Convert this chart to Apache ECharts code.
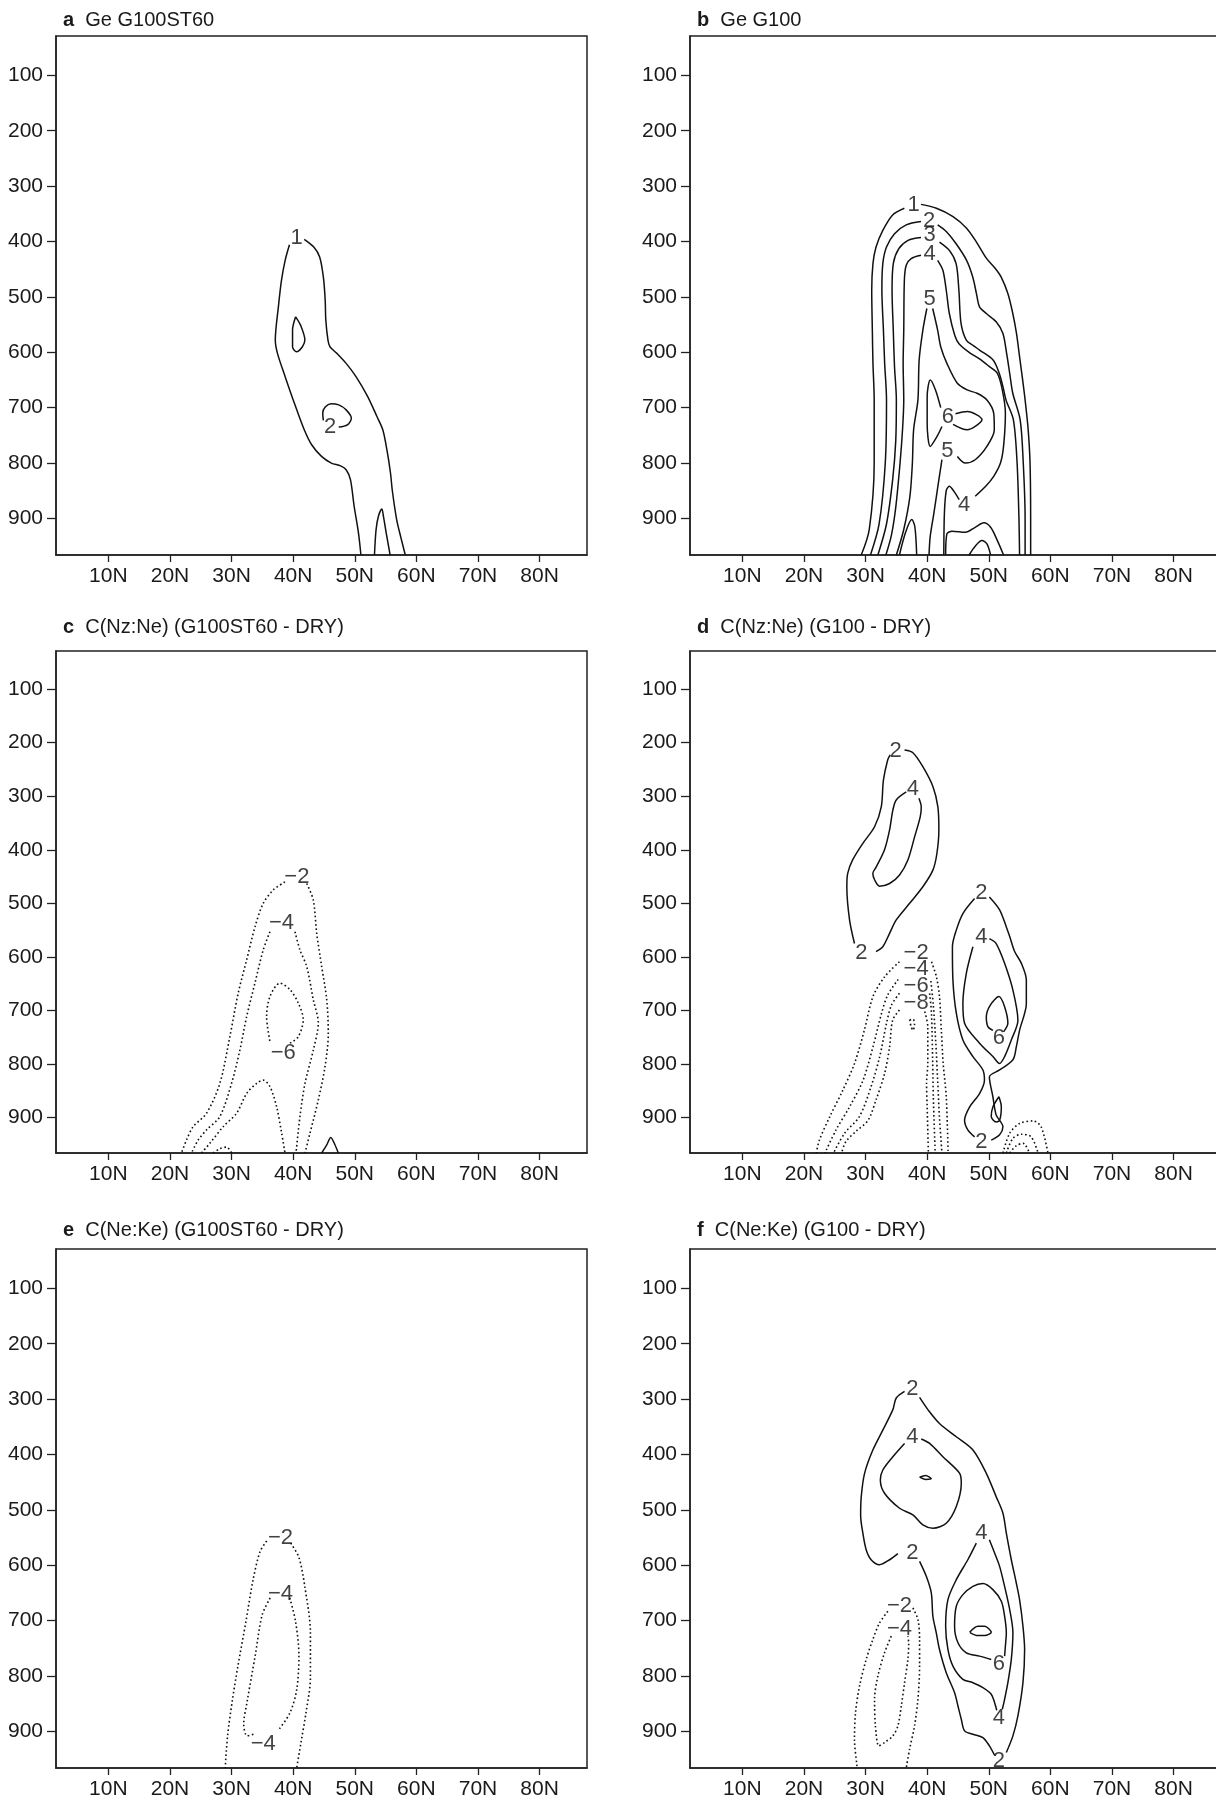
<!DOCTYPE html>
<html><head><meta charset="utf-8">
<script src="https://cdn.jsdelivr.net/npm/echarts@6/dist/echarts.min.js"></script>
<style>html,body{margin:0;padding:0;background:#fff}#c{width:1216px;height:1804px}</style>
</head><body><div id="c"></div>
<script>
// ---------- axes ----------
const X_MIN = 1.5, X_MAX = 87.7, P_MIN = 29, P_MAX = 966;
const LAT_TICKS = [10, 20, 30, 40, 50, 60, 70, 80];
const P_TICKS = [100, 200, 300, 400, 500, 600, 700, 800, 900];
const TITLES = [
  ['a', 'Ge G100ST60'], ['b', 'Ge G100'],
  ['c', 'C(Nz:Ne) (G100ST60 - DRY)'], ['d', 'C(Nz:Ne) (G100 - DRY)'],
  ['e', 'C(Ne:Ke) (G100ST60 - DRY)'], ['f', 'C(Ne:Ke) (G100 - DRY)']
];

// ---------- panel a ----------
const A1_L = [[39.4,406],[38.7,434],[38.1,470],[37.6,518],[37.1,578],[37.45,602],[38.7,644],[40.2,692],[41.8,740],[43.0,767],[44.6,788],[46.2,800],[47.7,805],[48.6,812],[49.3,830],[49.9,878],[50.6,926],[51.0,966]];
const A1_R = [[41.8,396],[43.35,410],[44.3,428],[44.9,464],[45.2,506],[45.3,542],[45.65,578],[45.97,590],[47.1,602],[48.6,620],[50.2,644],[52.1,680],[53.6,716],[54.55,740],[55.2,775],[55.8,818],[56.1,850],[56.8,902],[57.5,935],[58.2,966]];
const A2_UP = [[40.4,536],[41.2,551],[41.9,578],[41.5,590],[40.55,599],[39.9,590],[39.9,560],[40.4,536]];
const A2_MID = [[44.9,723],[44.8,710],[45.2,699],[46.15,693],[47.4,695],[48.6,704],[49.45,719],[48.8,731],[47.4,735]];
const A2_SFC = [[53.2,966],[53.46,920],[53.84,896],[54.4,883],[54.65,896],[55.1,926],[55.74,966]];
const A_LABELS = [[40.55,393,'1'],[46.0,735,'2']];

// ---------- panel b ----------
const B1_L = [[36.3,340],[34.4,352],[32.8,380],[31.7,410],[31.2,440],[31.0,488],[31.1,560],[31.2,620],[31.4,686],[31.4,800],[30.6,920],[29.3,966]];
const B1_R = [[39.0,333],[41.5,340],[44.2,355],[46.4,376],[48.0,401],[49.6,430],[51.0,448],[52.0,464],[53.1,494],[53.9,530],[54.5,566],[55.0,608],[55.5,650],[55.9,686],[56.4,740],[56.7,800],[56.8,900],[56.8,966]];
const B2_L = [[39.0,364],[36.6,370],[34.7,386],[33.4,410],[32.8,440],[32.65,488],[32.9,560],[33.1,620],[33.4,686],[33.2,800],[32.2,910],[30.8,966]];
const B2_R = [[41.7,370],[43.1,382],[44.7,404],[46.4,434],[47.4,464],[48.0,494],[48.5,518],[49.6,530],[51.2,545],[52.3,566],[52.9,602],[53.4,638],[53.9,674],[55.1,722],[55.6,800],[55.9,900],[55.9,966]];
const B3_L = [[39.0,393],[36.9,398],[35.4,413],[34.5,440],[34.3,488],[34.5,560],[34.7,626],[35.0,686],[34.9,760],[34.4,830],[33.4,910],[32.0,966]];
const B3_R = [[42.0,401],[43.6,416],[44.7,440],[45.15,488],[45.5,548],[46.35,578],[47.5,588],[48.5,596],[50.7,614],[51.7,638],[52.3,662],[52.8,686],[54.0,722],[54.6,800],[54.9,900],[55.0,966]];
const B4_L = [[39.0,425],[37.4,431],[36.6,443],[36.3,470],[36.2,560],[36.1,620],[36.2,686],[36.0,740],[35.6,800],[34.9,880],[34.2,930],[33.3,966]];
const B4_R = [[41.7,434],[42.55,452],[43.1,488],[43.6,530],[44.5,570],[45.2,585],[46.8,600],[48.5,612],[50.0,625],[51.4,638],[52.2,668],[52.7,710],[52.4,770],[51.9,800],[50.8,824],[49.5,842],[47.8,860]];
const B4_IN = [[45.2,866],[44.4,852],[43.6,842],[43.1,850],[42.8,890],[42.7,966]];
const B5_L = [[39.95,521],[39.3,560],[38.7,614],[38.5,686],[37.8,740],[37.6,800],[37.2,860],[36.2,920],[35.0,966]];
const B5_R = [[40.9,521],[41.7,560],[42.2,590],[43.2,620],[44.9,656],[46.5,668],[48.1,674],[49.7,686],[50.8,710],[50.9,740],[49.7,770],[47.8,794],[46.2,800],[44.9,788]];
const B5_LOW = [[42.4,794],[41.9,830],[41.1,890],[40.5,932],[40.3,966]];
const B6_SPIKE = [[35.5,966],[36.5,925],[37.5,902],[38.0,915],[38.3,966]];
const B6_LENS = [[42.2,700],[41.35,668],[40.5,650],[40.0,680],[40.0,728],[40.5,770],[41.6,752],[42.4,734]];
const B6_LOOP = [[44.6,711],[46.5,707],[48.9,722],[47.8,734],[46.5,740],[44.2,730]];
const B4_BUMP = [[43.0,966],[43.2,928],[44.05,923],[46.2,925],[47.8,916],[49.2,908],[50.3,916],[51.4,940],[52.4,966]];
const B5_BUMP = [[46.8,966],[47.8,950],[48.9,940],[49.7,946],[50.3,966]];
const B_LABELS = [[37.8,334,'1'],[40.3,363,'2'],[40.4,389,'3'],[40.4,423,'4'],[40.4,503,'5'],[43.35,716,'6'],[43.3,779,'5'],[46.0,875,'4']];

// ---------- panel c ----------
const CM2_L = [[38.67,460],[36.77,475],[35.14,500],[33.8,544],[32.44,606],[31.07,668],[29.72,749],[28.1,836],[25.93,892],[23.76,917],[22.68,942],[21.87,966]];
const CM2_R = [[42.2,463],[43.27,494],[43.82,556],[44.63,618],[45.45,680],[45.7,743],[45.17,805],[44.08,867],[42.73,929],[41.92,966]];
const CM4_L = [[36.23,553],[35.14,587],[33.79,649],[32.44,712],[31.35,774],[30.0,836],[28.1,898],[25.93,923],[24.57,942],[23.5,966]];
const CM4_R = [[40.29,553],[41.1,587],[42.2,618],[43.27,680],[44.08,723],[43.27,774],[41.92,836],[41.1,898],[40.46,966]];
const CM6_RING = [[39.48,761],[40.83,749],[41.64,717],[40.83,686],[39.48,661],[37.85,649],[36.23,674],[35.69,712],[36.23,758]];
const CM6_SFC = [[25.12,966],[26.47,948],[28.63,917],[30.81,892],[32.44,855],[34.07,836],[35.14,830],[36.23,842],[37.32,880],[38.13,929],[38.67,966]];
const CM8_SFC = [[27.0,966],[28.1,958],[29.2,955],[30.0,966]];
const C_POS = [[44.63,966],[45.45,951],[46.1,937],[46.8,951],[47.33,966]];
const C_LABELS = [[40.6,450,'\u22122'],[38.1,537,'\u22124'],[38.4,780,'\u22126']];

// ---------- panel d ----------
const D2U_R = [[36.33,214],[37.68,219],[39.3,245],[40.93,282],[41.74,320],[41.9,363],[41.58,407],[40.93,438],[39.3,469],[37.15,500],[34.98,531],[33.9,556],[32.8,581],[31.7,590]];
const D2U_L = [[28.2,575],[27.4,531],[26.96,469],[27.1,444],[27.9,419],[29.56,388],[31.46,357],[32.55,320],[32.9,270],[33.6,232],[34.0,223]];
const D4U = [[36.6,292],[34.98,307],[34.43,326],[33.9,363],[33.08,400],[31.74,432],[31.18,444],[31.46,456],[32.27,468],[33.9,463],[35.52,447],[36.87,419],[37.96,376],[38.88,338],[39.04,320],[38.66,304]];
const D2L_L = [[47.7,491],[45.8,519],[44.73,550],[44.1,581],[44.18,643],[44.73,705],[45.8,755],[47.43,786],[49.05,811],[49.3,830],[48.5,855],[46.9,880],[46.07,905],[46.6,923],[47.7,936]];
const D2L_R = [[50.4,942],[51.76,932],[52.3,917],[51.2,895],[50.67,861],[50.1,824],[51.76,811],[53.92,792],[54.47,768],[55.0,737],[56.1,687],[56.1,643],[55.3,612],[54.2,590],[53.4,562],[52.85,544],[51.76,512],[50.1,488]];
const D4L = [[47.43,581],[46.35,631],[45.8,687],[46.07,724],[48.5,761],[50.67,786],[51.76,799],[52.57,786],[53.66,755],[54.73,718],[53.92,662],[52.57,612],[51.2,575],[50.1,566]];
const D6 = [[52.4,740],[53.1,724],[52.57,693],[51.65,674],[50.25,690],[49.6,712],[49.86,730],[50.67,737]];
const D_SMALL = [[51.65,861],[52.04,880],[51.76,905],[51.2,908],[50.4,898],[50.67,880],[51.65,861]];
const DM2_L = [[35.5,609],[33.1,637],[31.2,674],[29.8,737],[28.2,799],[26.3,849],[24.2,898],[22.5,942],[22.0,966]];
const DM2_R = [[40.7,609],[41.5,637],[42.0,674],[42.3,737],[42.6,799],[43.1,861],[43.4,966]];
const DM4_L = [[35.3,642],[33.6,671],[32.6,705],[31.2,768],[29.6,830],[27.4,880],[25.2,923],[23.4,966]];
const DM4_R = [[40.6,645],[41.0,690],[41.4,760],[41.7,830],[42.0,900],[42.4,966]];
const DM6_L = [[35.5,668],[34.2,690],[33.4,724],[32.3,786],[30.9,842],[29.0,898],[26.6,929],[24.8,966]];
const DM6_R = [[40.4,668],[40.7,705],[40.9,799],[41.0,861],[41.3,966]];
const DM8_L = [[35.5,699],[34.4,718],[33.9,768],[33.1,817],[31.7,867],[30.4,905],[28.5,925],[26.8,945],[26.1,966]];
const DM8_R = [[39.6,702],[40.1,730],[40.1,799],[39.9,836],[40.0,880],[40.2,966]];
const DM_TINY = [[37.15,718],[37.7,716],[37.95,727],[37.7,737],[37.4,730],[37.15,718]];
const DM_B1 = [[52.3,966],[53.4,929],[55.0,911],[57.2,906],[58.5,917],[59.6,966]];
const DM_B2 = [[52.85,966],[53.9,939],[55.3,931],[56.9,936],[58.0,966]];
const DM_B3 = [[53.4,966],[54.5,952],[55.6,948],[56.6,966]];
const D_LABELS = [[34.87,215,'2'],[37.68,287,'4'],[29.3,593,'2'],[48.79,480,'2'],[48.79,562,'4'],[51.65,752,'6'],[48.79,946,'2'],
  [38.2,592,'\u22122'],[38.2,623,'\u22124'],[38.2,654,'\u22126'],[38.2,686,'\u22128']];

// ---------- panel e ----------
const EM2_L = [[35.7,556],[34.6,576],[33.46,628],[32.34,701],[31.0,784],[30.1,846],[29.35,908],[28.97,966]];
const EM2_R = [[39.6,560],[40.94,586],[41.9,639],[42.8,722],[42.8,804],[42.07,867],[41.3,918],[40.57,966]];
const EM4_L = [[36.27,659],[34.96,690],[33.84,763],[32.53,846],[31.97,887],[32.53,908],[33.84,904]];
const EM4_R = [[39.45,659],[40.38,701],[40.94,763],[40.57,825],[39.45,867],[37.58,898]];
const E_LABELS = [[37.95,550,'\u22122'],[37.95,651,'\u22124'],[35.15,923,'\u22124']];

// ---------- panel f ----------
const F2_TOPL = [[36.33,286],[34.98,298],[34.43,319],[32.8,356],[31.18,392],[29.84,434],[29.3,476],[29.2,510],[29.56,542],[30.1,572],[30.9,590],[32.27,599],[33.9,590],[35.25,579]];
const F2_MID = [[38.77,593],[39.86,620],[40.67,650],[40.93,692],[41.48,722],[42.0,752],[43.1,794],[44.45,830],[45.0,854],[45.54,878],[46.07,899],[47.43,905],[49.05,911],[50.1,926],[50.95,943]];
const F2_R = [[52.85,938],[53.92,908],[54.73,872],[55.55,812],[55.82,752],[55.55,710],[55.0,662],[54.47,632],[53.66,590],[52.85,542],[52.3,506],[51.2,476],[49.6,434],[47.43,392],[44.73,368],[42.0,344],[40.12,319],[38.77,297]];
const F4_UP = [[36.33,380],[34.43,404],[32.8,428],[32.4,446],[33.08,470],[35.52,497],[37.68,509],[39.3,527],[40.93,533],[43.1,524],[44.73,494],[45.54,452],[45.27,434],[42.55,404],[40.4,380],[39.04,372]];
const F_TINY = [[38.77,441],[39.74,438],[40.67,444],[39.74,445],[38.77,441]];
const F4_LO_L = [[47.98,560],[46.6,590],[44.73,626],[43.37,662],[43.0,710],[43.37,752],[44.18,782],[45.8,806],[47.43,812],[49.05,821],[50.4,833],[50.95,848],[51.3,862]];
const F4_LO_R = [[52.2,860],[52.57,842],[53.1,812],[53.66,770],[53.92,722],[53.4,680],[52.57,638],[51.76,602],[50.95,578],[50.1,554]];
const F6 = [[50.4,770],[48.5,764],[46.35,758],[45.0,740],[44.45,710],[44.73,674],[45.8,653],[47.43,638],[49.05,633],[50.67,644],[52.04,665],[52.57,692],[52.85,722],[52.7,746],[52.57,764]];
const F_LENS = [[46.9,721],[48.24,710],[49.33,710],[50.4,721],[49.33,727],[48.24,727],[46.9,721]];
const FM2_L = [[33.62,683],[32.27,704],[31.18,734],[30.1,770],[29.02,818],[28.37,866],[28.2,914],[28.6,962],[28.65,966]];
const FM2_R = [[37.68,677],[38.5,698],[38.77,734],[38.77,782],[38.5,842],[37.95,890],[37.15,932],[36.6,966]];
const FM4 = [[34.17,728],[33.08,758],[32.0,800],[31.46,842],[31.6,890],[32.16,926],[33.08,920],[34.43,908],[35.25,890],[35.8,854],[36.33,812],[36.87,770],[37.0,740],[36.87,728]];
const F_LABELS = [[37.58,282,'2'],[37.6,368,'4'],[37.58,578,'2'],[48.79,542,'4'],[51.65,779,'6'],[51.65,875,'4'],[51.65,953,'2'],[35.52,673,'\u22122'],[35.52,715,'\u22124']];

// ---------- panel assembly ----------
const PANELS = [
  { solid: [A1_L, A1_R, A2_UP, A2_MID, A2_SFC], dotted: [], labels: A_LABELS },
  { solid: [B1_L, B1_R, B2_L, B2_R, B3_L, B3_R, B4_L, B4_R, B4_IN, B5_L, B5_R, B5_LOW, B6_SPIKE, B6_LENS, B6_LOOP, B4_BUMP, B5_BUMP], dotted: [], labels: B_LABELS },
  { solid: [C_POS], dotted: [CM2_L, CM2_R, CM4_L, CM4_R, CM6_RING, CM6_SFC, CM8_SFC], labels: C_LABELS },
  { solid: [D2U_R, D2U_L, D4U, D2L_L, D2L_R, D4L, D6, D_SMALL], dotted: [DM2_L, DM2_R, DM4_L, DM4_R, DM6_L, DM6_R, DM8_L, DM8_R, DM_TINY, DM_B1, DM_B2, DM_B3], labels: D_LABELS },
  { solid: [], dotted: [EM2_L, EM2_R, EM4_L, EM4_R], labels: E_LABELS },
  { solid: [F2_TOPL, F2_MID, F2_R, F4_UP, F_TINY, F4_LO_L, F4_LO_R, F6, F_LENS], dotted: [FM2_L, FM2_R, FM4], labels: F_LABELS }
];

// ---------- layout ----------
const FONT = '"Liberation Sans", Arial, Helvetica, sans-serif';
const GRID_BOX = [
  { left: 56, top: 36, width: 531, height: 519 },
  { left: 690, top: 36, width: 531, height: 519 },
  { left: 56, top: 651, width: 531, height: 502 },
  { left: 690, top: 651, width: 531, height: 502 },
  { left: 56, top: 1249, width: 531, height: 519 },
  { left: 690, top: 1249, width: 531, height: 519 }
];
const TITLE_TOP = [5, 5, 612, 612, 1215, 1215];

const grids = [], xAxes = [], yAxes = [], titles = [], series = [];
GRID_BOX.forEach((g, i) => {
  grids.push(Object.assign({ show: true, borderColor: '#222', borderWidth: 1.5, backgroundColor: 'transparent', containLabel: false, outerBoundsMode: 'none' }, g));
  xAxes.push({
    type: 'value', gridIndex: i, min: X_MIN, max: X_MAX,
    axisLine: { show: true, onZero: false, lineStyle: { color: '#222', width: 1.5 } },
    axisTick: { show: true, customValues: LAT_TICKS, length: 7, lineStyle: { color: '#222', width: 1.3 } },
    axisLabel: { show: true, customValues: LAT_TICKS, formatter: v => v + 'N', fontSize: 21, color: '#1a1a1a', margin: 11, fontFamily: FONT },
    splitLine: { show: false }
  });
  yAxes.push({
    type: 'value', gridIndex: i, min: P_MIN, max: P_MAX, inverse: true,
    axisLine: { show: true, onZero: false, lineStyle: { color: '#222', width: 1.5 } },
    axisTick: { show: true, customValues: P_TICKS, length: 9, lineStyle: { color: '#222', width: 1.3 } },
    axisLabel: { show: true, customValues: P_TICKS, fontSize: 21, color: '#1a1a1a', margin: 13, fontFamily: FONT },
    splitLine: { show: false }
  });
  titles.push({
    text: '{b|' + TITLES[i][0] + '}  ' + TITLES[i][1],
    left: g.left + 2, top: TITLE_TOP[i],
    textStyle: { fontSize: 20, fontWeight: 'normal', color: '#1a1a1a', fontFamily: FONT,
      rich: { b: { fontSize: 20, fontWeight: 'bold', color: '#1a1a1a', fontFamily: FONT } } }
  });
  const pn = PANELS[i];
  const mk = (seg, dotted) => ({
    type: 'line', xAxisIndex: i, yAxisIndex: i, data: seg, symbol: 'none', showSymbol: false,
    smooth: 0.3, silent: true, animation: false, clip: true, z: 3,
    lineStyle: { color: '#111', width: dotted ? 1.6 : 1.5, type: dotted ? [1.6, 2.6] : 'solid' }
  });
  pn.solid.forEach(s => series.push(mk(s, false)));
  pn.dotted.forEach(s => series.push(mk(s, true)));
  series.push({
    type: 'scatter', xAxisIndex: i, yAxisIndex: i, silent: true, animation: false, z: 5,
    symbolSize: 1, itemStyle: { color: 'rgba(0,0,0,0)' },
    data: pn.labels.map(l => ({ value: [l[0], l[1]], name: l[2] })),
    label: { show: true, position: 'inside', formatter: '{b}', fontSize: 22, color: '#111', fontFamily: FONT }
  });
});

const chart = echarts.init(document.getElementById('c'), null, { renderer: 'canvas', width: 1216, height: 1804 });
chart.setOption({
  backgroundColor: '#ffffff',
  animation: false,
  title: titles,
  grid: grids,
  xAxis: xAxes,
  yAxis: yAxes,
  series: series
});
</script>
</body></html>
